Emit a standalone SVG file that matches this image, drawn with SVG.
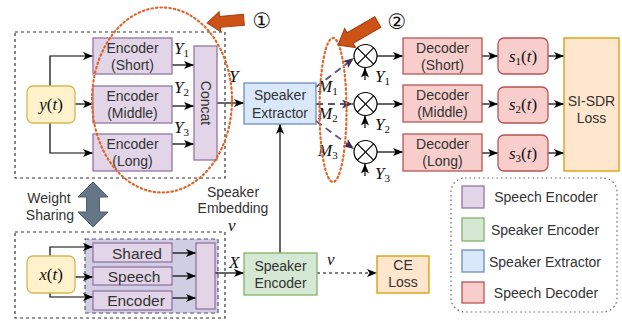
<svg xmlns="http://www.w3.org/2000/svg" width="622" height="321" viewBox="0 0 622 321">
<defs>
<style>
.t{font-family:"Liberation Sans",Arial,sans-serif;font-size:14px;fill:#333;text-anchor:middle}
.tb{font-family:"Liberation Sans",Arial,sans-serif;font-size:15.5px;fill:#333;text-anchor:middle}
.m{font-family:"Liberation Serif","Times New Roman",serif;font-size:17px;fill:#111;font-style:italic}
.up{font-style:normal}
.sub{font-size:11px;font-style:normal}
.pur{fill:#e1d5e7;stroke:#9673a6;stroke-width:1.3}
.red{fill:#f8cecc;stroke:#b85450;stroke-width:1.3}
.yel{fill:#fff2cc;stroke:#d6b656;stroke-width:1.3}
.org{fill:#ffe6cc;stroke:#d79b00;stroke-width:1.3}
.grn{fill:#d5e8d4;stroke:#82b366;stroke-width:1.3}
.blu{fill:#dae8fc;stroke:#6c8ebf;stroke-width:1.3}
.dash{fill:none;stroke:#333;stroke-width:1.2;stroke-dasharray:3 3}
.ln{fill:none;stroke:#000;stroke-width:1.2;marker-end:url(#ah)}
.pl{fill:none;stroke:#56517e;stroke-width:1.8;stroke-dasharray:7 5;marker-end:url(#ph)}
.ell{fill:none;stroke:#e0662a;stroke-width:2.2;stroke-dasharray:1.5 3;stroke-linecap:round}
.oa{fill:#cc5216;stroke:#a63f0f;stroke-width:1}
.num{font-family:"DejaVu Sans","Noto Sans CJK SC",sans-serif;font-size:21px;fill:#111;text-anchor:middle}
</style>
<marker id="ah" viewBox="0 0 10 8" refX="10" refY="4" markerWidth="10" markerHeight="8" orient="auto" markerUnits="userSpaceOnUse"><path d="M0,0 L10,4 L0,8 L2.5,4 z" fill="#000"/></marker>
<marker id="ph" viewBox="0 0 10 8" refX="10" refY="4" markerWidth="11" markerHeight="9" orient="auto" markerUnits="userSpaceOnUse"><path d="M0,0 L10,4 L0,8 L2.5,4 z" fill="#432d57"/></marker>
</defs>

<!-- frames -->
<rect class="dash" x="15" y="32" width="210" height="146"/>
<rect class="dash" x="15" y="232" width="210" height="86"/>
<g id="shared-encoder-container">
<rect x="85" y="239" width="133" height="74" fill="#d0cee2" stroke="#56517e" stroke-width="1.2" stroke-dasharray="4 3"/>
</g>

<!-- connectors -->
<g id="connectors">
<path class="ln" d="M75,104 H93"/>
<path class="ln" d="M50,86 V56 H93"/>
<path class="ln" d="M50,123 V153 H93"/>
<path class="ln" d="M172,65 H194"/>
<path class="ln" d="M172,106 H194"/>
<path class="ln" d="M172,144 H194"/>
<path class="ln" d="M217,103 H244"/>
<path class="pl" d="M316,87 L354,58"/>
<path class="pl" d="M316,104 H353"/>
<path class="pl" d="M316,121 L354,149"/>
<path class="ln" d="M377,56 H403"/>
<path class="ln" d="M377,104 H403"/>
<path class="ln" d="M377,152 H403"/>
<path class="ln" d="M365,80 V67.5"/>
<path class="ln" d="M365,128 V115.5"/>
<path class="ln" d="M365,176 V163.5"/>
<path class="ln" d="M482,56 H498"/>
<path class="ln" d="M482,104 H498"/>
<path class="ln" d="M482,153 H498"/>
<path class="ln" d="M548,56 H564"/>
<path class="ln" d="M548,104 H564"/>
<path class="ln" d="M548,153 H564"/>
<path class="ln" d="M280,253 V124"/>
<path class="ln" d="M317,273 H377" style="stroke-dasharray:3 3"/>
<path class="ln" d="M75,277 H93"/>
<path class="ln" d="M50,256 V247 H93"/>
<path class="ln" d="M50,293 V297 H93"/>
<path class="ln" d="M172,253 H196"/>
<path class="ln" d="M172,276 H196"/>
<path class="ln" d="M172,298 H196"/>
<path class="ln" d="M215,273 H244"/>
</g>

<!-- top speech encoder -->
<g id="yt"><rect class="yel" x="27" y="86" width="48" height="37" rx="6"/>
<text class="m" x="51" y="110" text-anchor="middle">y<tspan class="up">(</tspan>t<tspan class="up">)</tspan></text></g>
<g id="enc-short"><rect class="pur" x="93" y="38" width="79" height="36"/>
<text class="t" x="132.5" y="53">Encoder</text><text class="t" x="132.5" y="70">(Short)</text></g>
<g id="enc-middle"><rect class="pur" x="93" y="86" width="79" height="37"/>
<text class="t" x="132.5" y="101">Encoder</text><text class="t" x="132.5" y="118">(Middle)</text></g>
<g id="enc-long"><rect class="pur" x="93" y="134" width="79" height="37"/>
<text class="t" x="132.5" y="149">Encoder</text><text class="t" x="132.5" y="166">(Long)</text></g>
<g id="concat"><rect class="pur" x="194" y="46" width="23" height="114"/>
<text class="t" transform="translate(201,103) rotate(90)">Concat</text></g>
<g id="ylabels">
<text class="m" x="174" y="54">Y<tspan class="sub" dy="3">1</tspan></text>
<text class="m" x="174" y="93">Y<tspan class="sub" dy="3">2</tspan></text>
<text class="m" x="174" y="133">Y<tspan class="sub" dy="3">3</tspan></text>
<text class="m" x="229" y="82">Y</text>
</g>

<!-- speaker extractor -->
<g id="extractor"><rect class="blu" x="244" y="83" width="72" height="41"/>
<text class="t" x="280" y="100">Speaker</text><text class="t" x="280" y="118">Extractor</text></g>
<g id="mlabels">
<text class="m" x="318" y="92">M<tspan class="sub" dy="3">1</tspan></text>
<text class="m" x="318" y="119">M<tspan class="sub" dy="3">2</tspan></text>
<text class="m" x="318" y="156">M<tspan class="sub" dy="3">3</tspan></text>
</g>

<!-- multipliers -->
<g id="mul1"><circle cx="365.5" cy="56" r="11.5" fill="#fff" stroke="#000" stroke-width="1.2"/><path d="M357.4,47.9 L373.6,64.1 M373.6,47.9 L357.4,64.1" stroke="#000" stroke-width="1.2"/></g>
<g id="mul2"><circle cx="365.5" cy="104" r="11.5" fill="#fff" stroke="#000" stroke-width="1.2"/><path d="M357.4,95.9 L373.6,112.1 M373.6,95.9 L357.4,112.1" stroke="#000" stroke-width="1.2"/></g>
<g id="mul3"><circle cx="365.5" cy="152" r="11.5" fill="#fff" stroke="#000" stroke-width="1.2"/><path d="M357.4,143.9 L373.6,160.1 M373.6,143.9 L357.4,160.1" stroke="#000" stroke-width="1.2"/></g>
<g id="ylabels2">
<text class="m" x="375" y="82">Y<tspan class="sub" dy="3">1</tspan></text>
<text class="m" x="375" y="130">Y<tspan class="sub" dy="3">2</tspan></text>
<text class="m" x="375" y="179">Y<tspan class="sub" dy="3">3</tspan></text>
</g>

<!-- decoders -->
<g id="dec-short"><rect class="red" x="403" y="38" width="79" height="36"/>
<text class="t" x="442.5" y="53">Decoder</text><text class="t" x="442.5" y="70">(Short)</text></g>
<g id="dec-middle"><rect class="red" x="403" y="85" width="79" height="37"/>
<text class="t" x="442.5" y="100">Decoder</text><text class="t" x="442.5" y="117">(Middle)</text></g>
<g id="dec-long"><rect class="red" x="403" y="134" width="79" height="37"/>
<text class="t" x="442.5" y="149">Decoder</text><text class="t" x="442.5" y="166">(Long)</text></g>
<g id="s1"><rect class="red" x="498" y="38" width="50" height="36" rx="6"/>
<text class="m" x="523" y="62" text-anchor="middle">s<tspan class="sub" dy="3">1</tspan><tspan class="up" dy="-3">(</tspan>t<tspan class="up">)</tspan></text></g>
<g id="s2"><rect class="red" x="498" y="87" width="50" height="36" rx="6"/>
<text class="m" x="523" y="110" text-anchor="middle">s<tspan class="sub" dy="3">2</tspan><tspan class="up" dy="-3">(</tspan>t<tspan class="up">)</tspan></text></g>
<g id="s3"><rect class="red" x="498" y="135" width="50" height="36" rx="6"/>
<text class="m" x="523" y="159" text-anchor="middle">s<tspan class="sub" dy="3">3</tspan><tspan class="up" dy="-3">(</tspan>t<tspan class="up">)</tspan></text></g>
<g id="sisdr"><rect class="org" x="564" y="38" width="55" height="133"/>
<text class="t" x="591.5" y="106">SI-SDR</text><text class="t" x="591.5" y="123">Loss</text></g>

<!-- ellipses and callouts -->
<ellipse class="ell" cx="162" cy="100" rx="70" ry="92.5"/>
<ellipse class="ell" cx="333" cy="110" rx="13.5" ry="72"/>
<polygon class="oa" transform="translate(207,23) rotate(-5)" points="0,0 13,-10 13,-5.5 37,-5.5 37,5.5 13,5.5 13,10"/>
<polygon class="oa" transform="translate(338,45) rotate(-30)" points="0,0 14,-11 14,-6 46,-6 46,6 14,6 14,11"/>
<text class="num" x="262" y="28">①</text>
<text class="num" x="397" y="29">②</text>

<!-- weight sharing -->
<g id="weight-sharing">
<polygon points="93,182 108,197 99.5,197 99.5,212 108,212 93,227 78,212 86.5,212 86.5,197 78,197" fill="#647687" stroke="#4d5d6e" stroke-width="1"/>
<text class="t" x="49" y="203">Weight</text><text class="t" x="50" y="220">Sharing</text>
</g>
<text class="t" x="233" y="197">Speaker</text>
<text class="t" x="233" y="213">Embedding</text>
<text class="m" x="228" y="231">v</text>

<!-- bottom -->
<g id="xt"><rect class="yel" x="27" y="256" width="48" height="37" rx="6"/>
<text class="m" x="51" y="280" text-anchor="middle">x<tspan class="up">(</tspan>t<tspan class="up">)</tspan></text></g>
<g id="shared-encoder">
<rect class="pur" x="93" y="243" width="79" height="19"/>
<text class="tb" x="137" y="259">Shared</text>
<rect class="pur" x="93" y="267" width="79" height="18"/>
<text class="tb" x="134" y="282">Speech</text>
<rect class="pur" x="93" y="291" width="79" height="19"/>
<text class="tb" x="136" y="306">Encoder</text>
</g>
<g id="concat2"><rect class="pur" x="196" y="243" width="19" height="66"/></g>
<text class="m" x="229" y="268">X</text>
<g id="spk-encoder"><rect class="grn" x="244" y="253" width="73" height="42"/>
<text class="t" x="280.5" y="271">Speaker</text><text class="t" x="280.5" y="288">Encoder</text></g>
<text class="m" x="327" y="265">v</text>
<g id="ce-loss"><rect class="org" x="377" y="256" width="52" height="37"/>
<text class="t" x="403" y="270">CE</text><text class="t" x="403" y="287">Loss</text></g>

<!-- legend -->
<g id="legend">
<rect x="451" y="178" width="166" height="134" rx="14" fill="none" stroke="#666" stroke-width="1.2" stroke-dasharray="1.5 3"/>
<rect class="pur" x="462" y="186" width="22" height="22"/>
<text class="t" x="546" y="202">Speech Encoder</text>
<rect class="grn" x="462" y="218" width="22" height="23"/>
<text class="t" x="545" y="235">Speaker Encoder</text>
<rect class="blu" x="462" y="250" width="22" height="22"/>
<text class="t" x="545" y="267">Speaker Extractor</text>
<rect class="red" x="462" y="282" width="22" height="21"/>
<text class="t" x="546" y="298">Speech Decoder</text>
</g>
</svg>
